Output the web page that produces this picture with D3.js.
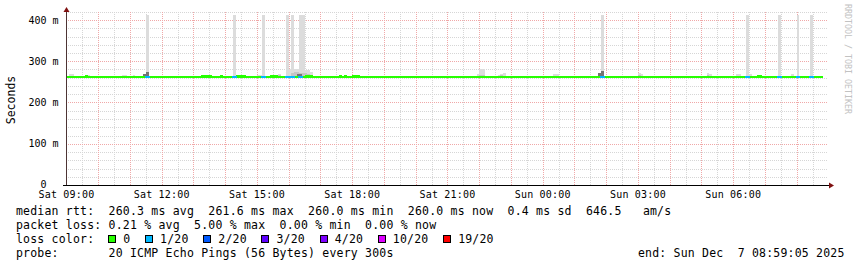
<!DOCTYPE html>
<html>
<head>
<meta charset="utf-8">
<script src="https://cdn.jsdelivr.net/npm/d3@7"></script>
<style>
  body { margin: 0; background: #fff; }
  svg { display: block; }
  text { font-family: "DejaVu Sans Mono", monospace; white-space: pre; }
</style>
</head>
<body>
<div id="chart"></div>
<script>
// 5 minute steps, "HH:MM" = step start (09:00.. on Sat, 00:00..08:59 on Sun)
const firstStep = "09:00", lastStep = "08:45";
const medianMs = 260.0;

// steps where the median sits a bit higher
const bumpTimes = ["09:35", "13:15", "13:20", "13:25", "13:30", "13:50", "14:20", "14:25", "14:30", "14:35",
    "15:25", "15:30", "15:35", "16:30", "16:35", "16:40", "17:35", "17:45", "18:00", "18:05", "18:10",
    "06:45", "06:50"];
const bumpMs = 261.5;

// 1/20 packet loss
const lossTimes = ["11:30", "14:15", "15:10", "15:55", "16:00", "16:05", "16:20", "01:50", "06:25", "07:25", "08:00", "08:25"];

// single pings way out (smoke spikes)
const spikeTimes = ["11:30", "14:15", "15:10", "15:55", "16:05", "16:20", "16:25", "01:50", "06:25", "07:25", "08:00", "08:25"];
const spikeMs = 412;

// light smoke (max ping, ms)
const smokeTimes = ["09:05", "09:10", "09:35", "09:40", "10:05", "10:10", "10:15", "10:20", "10:35", "10:45", "10:50",
    "10:55", "11:00", "11:05", "11:10", "11:15", "11:55", "12:30", "12:35", "12:55", "13:00", "13:05", "14:00",
    "14:20", "14:25", "14:30", "14:35", "14:45", "14:50", "14:55", "15:00", "15:05", "15:25", "15:40", "16:00",
    "16:05", "16:10", "16:15", "16:20", "16:25", "16:30", "16:35", "16:40", "16:45", "16:50", "17:40", "17:55",
    "18:40", "18:45", "19:10", "19:15", "19:25", "19:30", "20:00", "20:40", "21:00", "21:50", "21:55", "22:00",
    "22:05", "22:25", "22:35", "22:40", "22:45", "22:50", "23:05", "23:10", "23:25", "00:15", "00:20", "00:25",
    "01:35", "01:40", "02:30", "02:35", "03:00", "03:05", "03:10", "03:35", "04:50", "05:05", "05:10", "05:15",
    "05:20", "05:35", "05:40", "05:50", "06:05", "06:10", "06:30", "06:45", "06:50", "07:50", "08:05", "08:30",
    "08:35", "08:40"];
const smokeTops = [268, 269, 266, 266, 265, 265, 265, 264, 264, 266, 266,
    265, 265, 266, 265, 264, 263, 262, 262, 264, 264, 263, 265,
    266, 266, 265, 266, 264, 265, 263, 266, 266, 264, 269, 282,
    282, 282, 282, 281, 280, 278, 278, 275, 264, 264, 263, 262,
    263, 263, 263, 263, 264, 264, 263, 262, 262, 263, 268, 280,
    280, 262, 266, 270, 272, 263, 263, 263, 263, 265, 270, 270,
    263, 263, 265, 264, 272, 270, 263, 263, 263, 265, 272, 270,
    265, 264, 264, 264, 270, 270, 268, 266, 266, 268, 265, 265,
    265, 264];

// middle smoke band
const midTimes = ["15:40", "16:05", "16:10", "16:15", "16:20", "16:25", "16:30", "16:35", "22:00", "22:05", "22:40", "03:00", "05:10"];
const midTops = [267, 272, 275, 275, 272, 272, 272, 270, 267, 267, 266, 266, 266];

// dark smoke band
const darkTimes = ["11:25", "11:30", "16:15", "16:20", "01:45", "01:50"];
const darkTops = [268, 275, 268, 268, 272, 277];

const yTicks = [0, 0.1, 0.2, 0.3, 0.4];
const xLabelHours = 3;

const rttStats = ["260.3", "261.6", "260.0", "260.0"];
const rttSd = "0.4", amPerS = "646.5";
const lossStats = ["0.21", "5.00", "0.00", "0.00"];
const lossLabels = ["0", "1/20", "2/20", "3/20", "4/20", "10/20", "19/20"];
const lossColors = ["#26ff00", "#00b8ff", "#0059ff", "#5e00ff", "#7e00ff", "#dd00ff", "#ff0000"];
const probeText = "20 ICMP Echo Pings (56 Bytes) every 300s";
const endText = "end: Sun Dec  7 08:59:05 2025";

const W = 857, H = 267;
const plot = { left: 66, right: 828, top: 11.75, bottom: 185 };

const parseStep = s => {
    const [h, m] = s.split(":").map(Number);
    return new Date(Date.UTC(2025, 11, h >= 9 ? 6 : 7, h, m));
};
const stepEnd = t => d3.utcMinute.offset(t, 5);

const svg = d3.select("#chart").append("svg")
    .attr("width", W)
    .attr("height", H);

svg.append("rect").attr("width", W).attr("height", H).attr("fill", "#fff");

const x = d3.scaleUtc()
    .domain([new Date(Date.UTC(2025, 11, 6, 8, 59, 5)), new Date(Date.UTC(2025, 11, 7, 8, 59, 5))])
    .range([plot.left, plot.right]);

const y = d3.scaleLinear()
    .domain([0, 0.42])
    .range([plot.bottom, plot.top]);

const px = v => Math.round(v);

// grid
const grid = svg.append("g").attr("shape-rendering", "crispEdges");
const crisp = v => Math.round(v) + 0.5;

function hLines(vals, color) {
    grid.append("g").selectAll("line")
        .data(vals)
        .join("line")
        .attr("x1", plot.left).attr("x2", plot.right)
        .attr("y1", d => crisp(y(d))).attr("y2", d => crisp(y(d)))
        .attr("stroke", color)
        .attr("stroke-dasharray", "1,1");
}
function vLines(vals, color) {
    grid.append("g").selectAll("line")
        .data(vals)
        .join("line")
        .attr("x1", d => crisp(x(d))).attr("x2", d => crisp(x(d)))
        .attr("y1", 12).attr("y2", plot.bottom)
        .attr("stroke", color)
        .attr("stroke-dasharray", "1,1");
}

hLines(y.ticks(21).filter(d => d > 0), "#d6d6d6");
vLines(d3.utcMinute.every(30).range(x.domain()[0], x.domain()[1]), "#d6d6d6");
hLines(y.ticks(5).filter(d => d > 0), "#f0a8a8");
vLines(d3.utcHour.every(1).range(x.domain()[0], x.domain()[1]), "#f0a8a8");

// smoke
const g = svg.append("g").attr("shape-rendering", "crispEdges");

function smoke(times, tops, color) {
    g.append("g")
        .selectAll("rect")
        .data(times.map((t, i) => ({ t: parseStep(t), v: tops[i] / 1000 })))
        .join("rect")
        .attr("x", d => px(x(d.t)))
        .attr("width", d => px(x(stepEnd(d.t))) - px(x(d.t)))
        .attr("y", d => px(y(d.v)))
        .attr("height", d => px(y(0.2595)) - px(y(d.v)))
        .attr("fill", color);
}

smoke(smokeTimes, smokeTops, "#dddddd");
smoke(spikeTimes, spikeTimes.map(() => spikeMs), "#dcdcdc");
smoke(midTimes, midTops, "#c4c4c4");
smoke(darkTimes, darkTops, "#747474");

// median line, coloured by loss
const steps = d3.utcMinute.every(5).range(parseStep(firstStep), stepEnd(parseStep(lastStep)));
const bumps = new Set(bumpTimes.map(t => +parseStep(t)));
const losses = new Set(lossTimes.map(t => +parseStep(t)));
const medianRows = steps.map(t => ({
    t,
    v: (bumps.has(+t) ? bumpMs : medianMs) / 1000,
    loss: losses.has(+t) ? 1 : 0
}));
const lineBottom = px(y(medianMs / 1000));

g.append("g")
    .selectAll("rect")
    .data(medianRows.filter(d => d.loss === 0).concat(medianRows.filter(d => d.loss > 0)))
    .join("rect")
    .attr("x", d => px(x(d.t)) - (d.loss ? 1 : 0))
    .attr("width", d => px(x(stepEnd(d.t))) - px(x(d.t)) + (d.loss ? 2 : 0))
    .attr("y", d => px(y(d.v)) - 2)
    .attr("height", d => lineBottom - px(y(d.v)) + 2)
    .attr("fill", d => lossColors[d.loss]);

// axes
svg.append("line")
    .attr("x1", 63).attr("x2", plot.right + 1)
    .attr("y1", plot.bottom + 0.5).attr("y2", plot.bottom + 0.5)
    .attr("stroke", "#000");
svg.append("line")
    .attr("x1", plot.left + 0.5).attr("x2", plot.left + 0.5)
    .attr("y1", plot.bottom).attr("y2", 11)
    .attr("stroke", "#4d3434");
svg.append("path")
    .attr("d", `M${plot.right + 1},182.5L${plot.right + 6},185.5L${plot.right + 1},188.5Z`)
    .attr("fill", "#7f1010");
svg.append("path")
    .attr("d", `M63.5,12L66.5,7L69.5,12Z`)
    .attr("fill", "#7f1010");

svg.append("g")
    .selectAll("text")
    .data(yTicks)
    .join("text")
    .attr("x", 58.5)
    .attr("y", d => y(d) + (d === 0 ? 3 : 3.6))
    .attr("text-anchor", "end")
    .style("font-size", "10px")
    .attr("fill", "#000")
    .text(d => d === 0 ? "0  " : `${Math.round(d * 1000)} m`);

const fmtX = d3.utcFormat("%a %H:%M");
svg.append("g")
    .selectAll("text")
    .data(d3.utcHour.every(xLabelHours).range(x.domain()[0], x.domain()[1]))
    .join("text")
    .attr("x", d => x(d))
    .attr("y", 197.5)
    .attr("text-anchor", "middle")
    .style("font-size", "10px")
    .style("letter-spacing", "0.2px")
    .attr("fill", "#000")
    .text(fmtX);

svg.append("text")
    .attr("transform", "translate(15,100) rotate(-90)")
    .attr("text-anchor", "middle")
    .style("font-size", "11.5px")
    .attr("fill", "#000")
    .text("Seconds");

svg.append("text")
    .attr("transform", "translate(845,4) rotate(90)")
    .style("font-size", "8.3px")
    .attr("fill", "#c2c2c2")
    .text("RRDTOOL / TOBI OETIKER");

// legend
const legend = svg.append("g")
    .style("font-size", "11.5px")
    .style("letter-spacing", "0.2px")
    .attr("fill", "#000");

const rows = [
    `median rtt:  ${rttStats[0]} ms avg  ${rttStats[1]} ms max  ${rttStats[2]} ms min  ${rttStats[3]} ms now  ${rttSd} ms sd  ${amPerS}   am/s`,
    `packet loss: ${lossStats[0]} % avg  ${lossStats[1]} % max  ${lossStats[2]} % min  ${lossStats[3]} % now`,
    "loss color:",
    `probe:       ${probeText}`
];
const rowY = [215, 229.2, 243.2, 257];

legend.selectAll("text.row")
    .data(rows)
    .join("text")
    .attr("x", 16)
    .attr("y", (d, i) => rowY[i])
    .text(d => d);

let cursor = 108.3;
lossLabels.forEach((lab, i) => {
    legend.append("rect")
        .attr("x", Math.round(cursor) + 0.5)
        .attr("y", 235.5)
        .attr("width", 7)
        .attr("height", 7)
        .attr("fill", lossColors[i])
        .attr("stroke", "#000");
    legend.append("text")
        .attr("x", cursor + 15)
        .attr("y", rowY[2])
        .text(lab);
    cursor += 15 + lab.length * 7.12 + 14.7;
});

legend.append("text")
    .attr("x", 638)
    .attr("y", rowY[3])
    .text(endText);
</script>
</body>
</html>
